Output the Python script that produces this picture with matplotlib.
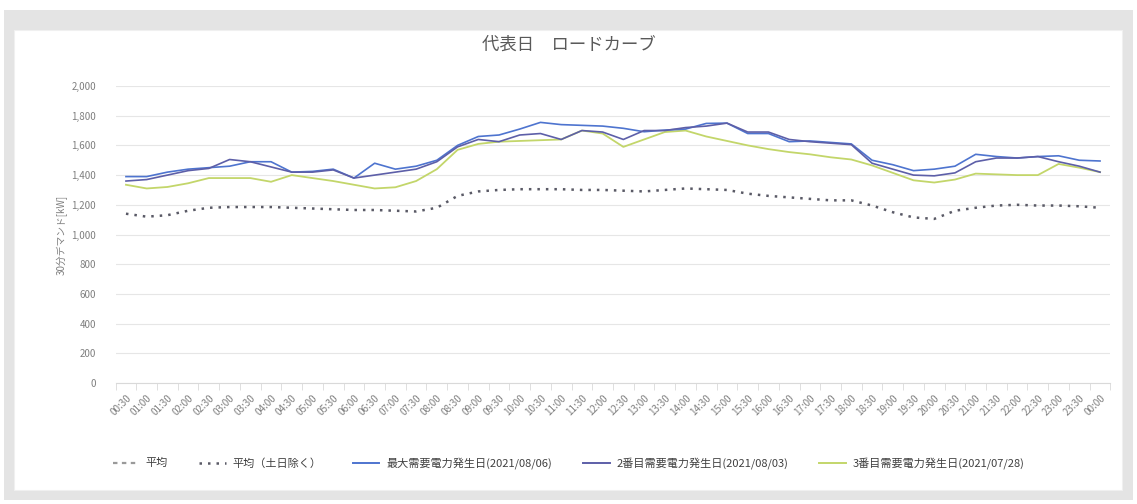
import matplotlib
matplotlib.use("Agg")
import matplotlib.pyplot as plt
from matplotlib.lines import Line2D
from matplotlib.patches import Rectangle
from matplotlib.ticker import FuncFormatter, FixedLocator
import numpy as np

plt.rcParams['font.family'] = ['Noto Sans CJK JP', 'DejaVu Sans']

times = ["00:30", "01:00", "01:30", "02:00", "02:30", "03:00", "03:30", "04:00",
         "04:30", "05:00", "05:30", "06:00", "06:30", "07:00", "07:30", "08:00",
         "08:30", "09:00", "09:30", "10:00", "10:30", "11:00", "11:30", "12:00",
         "12:30", "13:00", "13:30", "14:00", "14:30", "15:00", "15:30", "16:00",
         "16:30", "17:00", "17:30", "18:00", "18:30", "19:00", "19:30", "20:00",
         "20:30", "21:00", "21:30", "22:00", "22:30", "23:00", "23:30", "00:00"]

avg_weekday = [1140, 1120, 1130, 1160, 1180, 1185, 1185, 1185, 1180, 1175, 1170, 1165,
               1165, 1160, 1155, 1180, 1260, 1290, 1300, 1305, 1305, 1305, 1300, 1300,
               1295, 1290, 1300, 1310, 1305, 1300, 1275, 1260, 1250, 1240, 1230, 1230,
               1195, 1150, 1115, 1105, 1160, 1180, 1195, 1200, 1195, 1195, 1190, 1180]

max_day = [1390, 1390, 1420, 1440, 1450, 1460, 1490, 1490, 1420, 1425, 1440, 1380,
           1480, 1440, 1460, 1500, 1600, 1660, 1670, 1710, 1755, 1740, 1735, 1730,
           1715, 1692, 1703, 1710, 1748, 1750, 1680, 1680, 1625, 1630, 1620, 1610,
           1500, 1470, 1430, 1440, 1460, 1540, 1525, 1515, 1525, 1530, 1500, 1495]

second_day = [1360, 1370, 1400, 1430, 1445, 1505, 1490, 1455, 1420, 1420, 1435, 1380,
              1400, 1420, 1440, 1490, 1590, 1640, 1625, 1670, 1680, 1640, 1700, 1690,
              1640, 1700, 1700, 1720, 1730, 1750, 1690, 1690, 1640, 1625, 1615, 1605,
              1480, 1440, 1400, 1395, 1415, 1490, 1515, 1515, 1525, 1490, 1460, 1420]

third_day = [1335, 1310, 1320, 1345, 1380, 1380, 1380, 1355, 1400, 1380, 1360, 1335,
             1310, 1318, 1360, 1440, 1570, 1610, 1625, 1630, 1635, 1640, 1700, 1680,
             1590, 1640, 1690, 1700, 1660, 1630, 1600, 1575, 1555, 1540, 1520, 1505,
             1465, 1415, 1365, 1350, 1370, 1410, 1405, 1400, 1400, 1475, 1450, 1420]

labels = ["平均", "平均（土日除く）", "最大需要電力発生日(2021/08/06)",
          "2番目需要電力発生日(2021/08/03)", "3番目需要電力発生日(2021/07/28)"]

W, H = 1137, 504
fig = plt.figure(figsize=(W / 100, H / 100), dpi=100)
fig.patch.set_facecolor("white")

# grey frame and white panel
fig.patches.append(Rectangle((4 / W, 1 - 500 / H), 1129 / W, 490 / H,
                             transform=fig.transFigure, facecolor="#e4e4e4",
                             edgecolor="none", zorder=-2))
fig.patches.append(Rectangle((14 / W, 1 - 490 / H), 1108 / W, 460 / H,
                             transform=fig.transFigure, facecolor="white",
                             edgecolor="#f0f0f0", lw=0.8, zorder=-1))

ax = fig.add_axes([115.6 / W, 1 - 383 / H, 994.8 / W, 297 / H])
ax.set_zorder(5)
ax.set_facecolor("none")
x = np.arange(len(times))

c_avg = "#9a9a9a"
c_wd = "#5a5a66"
c_max = "#4e74cf"
c_2 = "#5d5fa8"
c_3 = "#c3d66a"

ax.plot(x, avg_weekday, color=c_wd, lw=1.8, linestyle=(0, (1, 2.4)),
        dash_capstyle="butt", zorder=3)
ax.plot(x, third_day, color=c_3, lw=1.3, zorder=4)
ax.plot(x, max_day, color=c_max, lw=1.2, zorder=5)
ax.plot(x, second_day, color=c_2, lw=1.2, zorder=5)

ax.set_xlim(-0.5, len(times) - 0.5)
ax.set_ylim(0, 2000)
ax.set_yticks(np.arange(0, 2001, 200))
ax.yaxis.set_major_formatter(FuncFormatter(lambda v, p: f"{int(v):,}"))
ax.grid(axis="y", color="#e6e6e6", lw=0.8)
ax.set_axisbelow(True)

ax.set_xticks(x)
ax.set_xticklabels(times, rotation=45, ha="right", rotation_mode="anchor",
                   fontsize=7, color="#7f7f7f")
ax.xaxis.set_minor_locator(FixedLocator(np.arange(-0.5, len(times), 1)))
ax.tick_params(axis="x", which="major", length=0, pad=7)
ax.tick_params(axis="x", which="minor", length=5, color="#d9d9d9")
ax.tick_params(axis="y", length=0, labelsize=7, labelcolor="#7f7f7f", pad=14)

for s in ["top", "right", "left"]:
    ax.spines[s].set_visible(False)
ax.spines["bottom"].set_color("#d9d9d9")

ax.set_ylabel("30分デマンド[kW]", fontsize=7, color="#7f7f7f", labelpad=3)

fig.text(0.5, 1 - 45 / H, "代表日　ロードカーブ", ha="center", va="center",
         fontsize=12.5, color="#595959")

handles = [
    Line2D([], [], color=c_avg, lw=1.6, linestyle=(0, (2, 2))),
    Line2D([], [], color=c_wd, lw=1.8, linestyle=(0, (1, 2.4))),
    Line2D([], [], color=c_max, lw=1.4),
    Line2D([], [], color=c_2, lw=1.4),
    Line2D([], [], color=c_3, lw=1.4),
]
fig.legend(handles, labels, loc="center", bbox_to_anchor=(0.5, 1 - 463 / H),
           ncol=5, frameon=False, fontsize=8, labelcolor="#404040",
           handlelength=2.4, columnspacing=2.8, handletextpad=0.6)

fig.savefig("out.png", dpi=100, facecolor="white")
